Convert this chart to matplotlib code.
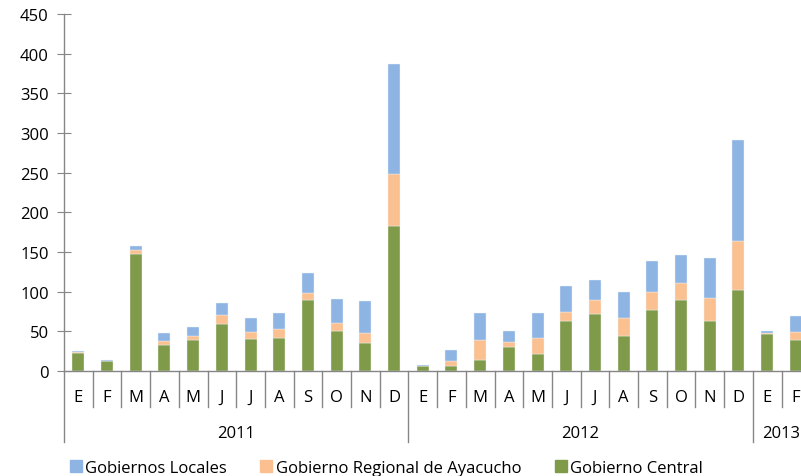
import numpy as np
import matplotlib
matplotlib.use("Agg")
import matplotlib.pyplot as plt
from matplotlib.patches import Patch
from matplotlib.transforms import blended_transform_factory

plt.rcParams["font.family"] = ["Open Sans", "DejaVu Sans"]

months = ["E", "F", "M", "A", "M", "J", "J", "A", "S", "O", "N", "D",
          "E", "F", "M", "A", "M", "J", "J", "A", "S", "O", "N", "D",
          "E", "F"]
years = ["2011", "2012", "2013"]
year_sizes = [12, 12, 2]

central = [23, 12, 147, 33, 39, 59, 40, 42, 89, 50, 35, 183,
           6, 6, 14, 30, 21, 63, 72, 44, 77, 90, 63, 102,
           47, 39]
regional = [0.5, 0, 6, 5, 5, 11, 9, 11, 9, 11, 13, 65,
            0, 6, 25, 6, 21, 11, 17, 23, 22, 21, 29, 62,
            1, 10]
locales = [1.5, 2, 5, 10, 12, 16, 18, 20, 25, 30, 40, 139,
           2, 14, 34, 14, 31, 33, 26, 33, 40, 35, 50, 127,
           3, 20]

c_loc = "#8EB4E3"
c_reg = "#FAC090"
c_cen = "#7F9A48"
axis_gray = "#868686"

W, H = 801, 477
fig = plt.figure(figsize=(W / 100, H / 100), dpi=100)
step = 28.7
ax = fig.add_axes([64 / W, 1 - 372 / H, len(months) * step / W, 357 / H])

x = np.arange(len(months))
central = np.array(central, dtype=float)
regional = np.array(regional, dtype=float)
locales = np.array(locales, dtype=float)
bw = 0.42
kw = dict(width=bw, edgecolor="#EEF2F7", linewidth=0.3)
ax.bar(x, central, color=c_cen, **kw)
ax.bar(x, regional, bottom=central, color=c_reg, **kw)
ax.bar(x, locales, bottom=central + regional, color=c_loc, **kw)

ax.set_xlim(-0.5, len(months) - 0.5)
ax.set_ylim(0, 450)
ax.set_yticks(np.arange(0, 451, 50))
ax.tick_params(axis="y", direction="inout", length=10, color=axis_gray,
               labelsize=12, pad=6, labelcolor="black")
ax.set_xticks([])

for s in ["top", "right"]:
    ax.spines[s].set_visible(False)
for s in ["left", "bottom"]:
    ax.spines[s].set_color(axis_gray)
    ax.spines[s].set_linewidth(1.0)

# multi-level category axis
ax_h = 357.0
tr = blended_transform_factory(ax.transData, ax.transAxes)
month_sep = -36 / ax_h
year_sep = -71 / ax_h

for i, m in enumerate(months):
    ax.text(i, -25.7 / ax_h, m, transform=tr, ha="center", va="center",
            fontsize=12)

year_edges = np.concatenate([[0], np.cumsum(year_sizes)])
for i in range(1, len(months)):
    if i in year_edges:
        continue
    ax.plot([i - 0.5, i - 0.5], [0, month_sep], transform=tr, color=axis_gray,
            lw=1.0, clip_on=False)
for e in year_edges:
    ax.plot([e - 0.5, e - 0.5], [0, year_sep], transform=tr, color=axis_gray,
            lw=1.0, clip_on=False)
for k, yr in enumerate(years):
    mid = (year_edges[k] + year_edges[k + 1] - 1) / 2
    ax.text(mid, -62 / ax_h, yr, transform=tr, ha="center", va="center",
            fontsize=12)

handles = [Patch(color=c_loc, label="Gobiernos Locales"),
           Patch(color=c_reg, label="Gobierno Regional de Ayacucho"),
           Patch(color=c_cen, label="Gobierno Central")]
fig.legend(handles=handles, loc="center left", bbox_to_anchor=(70 / W, 1 - 469 / H),
           ncol=3, frameon=False, fontsize=12, handlelength=0.72,
           handleheight=0.72, handletextpad=0.2, columnspacing=2.0,
           borderaxespad=0, borderpad=0)

fig.savefig("out.png", dpi=100)
